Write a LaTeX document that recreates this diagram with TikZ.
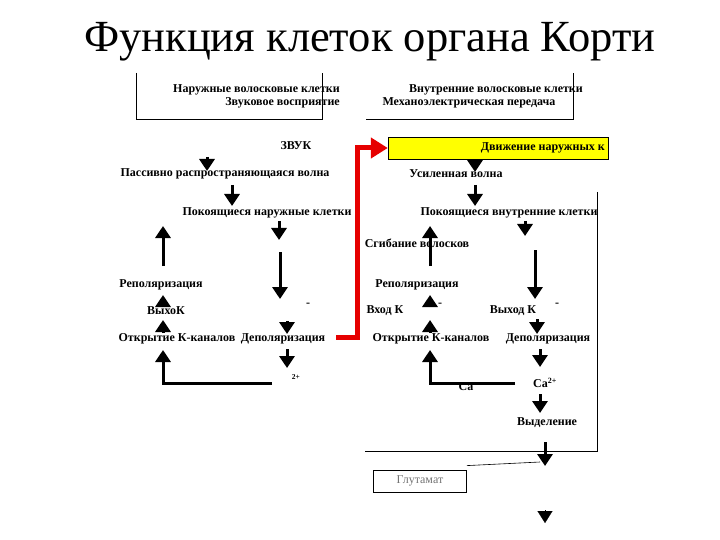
\documentclass[tikz,border=0pt]{standalone}
\usepackage{fontspec}
\setmainfont{Liberation Serif}
\usetikzlibrary{arrows.meta}
\definecolor{boxyellow}{RGB}{255,255,0}
\definecolor{arrred}{RGB}{230,0,0}
\begin{document}
\begin{tikzpicture}[x=1pt,y=-1pt,
  lbl/.style={inner sep=0pt,font=\fontsize{12}{13}\selectfont\bfseries},
  arr/.style={line width=3pt,-{Triangle[width=15pt,length=12pt]}},
  frame/.style={line width=1pt}]
\useasboundingbox (0,0) rectangle (720,540);
% title
\node [inner sep=0pt,font=\fontsize{44.5}{48}\selectfont] (title) at (370,42) {Функция клеток органа Корти};
% headers
\node [lbl,anchor=east] (outer) at (340,90) {Наружные волосковые клетки};
\node [lbl,anchor=east] (perc) at (340,103) {Звуковое восприятие};
\node [lbl] (inner) at (496,90) {Внутренние волосковые клетки};
\node [lbl] (mech) at (469,103) {Механоэлектрическая передача};
\coordinate (lb1) at (136,73); \coordinate (lb2) at (322,120); \coordinate (lb3) at (322,73);
\draw [frame] (lb1) |- (lb2) -- (lb3);
\coordinate (rb1) at (366,120); \coordinate (rb2) at (573,73);
\draw [frame] (rb1) -| (rb2);
% outer hair cells
\node [lbl] (zvuk) at (296,146) {ЗВУК};
\node [lbl] (passive) at (225,174) {Пассивно распространяющаяся волна};
\node [lbl] (restO) at (267,213) {Покоящиеся наружные клетки};
\node [lbl] (repolL) at (161,285) {Реполяризация};
\node [lbl] (vyhoK) at (166,311) {ВыхоК};
\node [lbl] (minusL) at (308,305) {-};
\node [lbl] (openL) at (177,339) {Открытие К-каналов};
\node [lbl] (depolL) at (283,339) {Деполяризация};
\node [lbl,font=\fontsize{7.5}{8}\selectfont\bfseries] (ionL) at (296,377) {2+};
% inner hair cells
\node [draw=black,fill=boxyellow,minimum width=220pt,minimum height=22pt,inner sep=0pt] (move) at (498,148) {};
\node [lbl,anchor=east] (moveT) at (605,148) {Движение наружных к};
\node [lbl] (usil) at (456,174) {Усиленная волна};
\node [lbl] (restI) at (509,213) {Покоящиеся внутренние клетки};
\node [lbl] (sgib) at (417,243) {Сгибание волосков};
\node [lbl] (repolR) at (417,285) {Реполяризация};
\node [lbl] (vhodK) at (385,311) {Вход К};
\node [lbl] (minusR1) at (440,305) {-};
\node [lbl] (vyhodK) at (513,311) {Выход К};
\node [lbl] (minusR2) at (557,305) {-};
\node [lbl] (openR) at (431,339) {Открытие К-каналов};
\node [lbl] (depolR) at (548,339) {Деполяризация};
\node [lbl] (caR) at (545,383) {Ca\textsuperscript{2+}};
\node [lbl] (caL) at (466,387) {Ca};
\node [lbl] (vyd) at (547,423) {Выделение};
\node [draw=black,line width=0.8pt,minimum width=93pt,minimum height=22pt,inner sep=0pt,text=black!55,font=\fontsize{12}{13}\selectfont] (glut) at (420,481) {Глутамат};
% arrows, left
\coordinate (a1) at (207,157); \coordinate (b1) at (207,171);
\draw [arr] (a1) -- (b1);
\coordinate (a2) at (232,185); \coordinate (b2) at (232,206);
\draw [arr] (a2) -- (b2);
\coordinate (a3) at (163,266); \coordinate (b3) at (163,226);
\draw [arr] (a3) -- (b3);
\coordinate (a4) at (279,221); \coordinate (b4) at (279,240);
\draw [arr] (a4) -- (b4);
\coordinate (a5) at (280,252); \coordinate (b5) at (280,299);
\draw [arr] (a5) -- (b5);
\coordinate (a6) at (163,307); \coordinate (b6) at (163,295);
\draw [arr] (a6) -- (b6);
\coordinate (a7) at (163,333); \coordinate (b7) at (163,320);
\draw [arr] (a7) -- (b7);
\coordinate (a8) at (287,321); \coordinate (b8) at (287,334);
\draw [arr] (a8) -- (b8);
\coordinate (a9) at (287,349); \coordinate (b9) at (287,368);
\draw [arr] (a9) -- (b9);
\coordinate (a10) at (272,383); \coordinate (b10) at (163,350);
\draw [arr] (a10) -| (b10);
% arrows, right
\coordinate (a11) at (475,160); \coordinate (b11) at (475,172);
\draw [arr] (a11) -- (b11);
\coordinate (a12) at (475,185); \coordinate (b12) at (475,206);
\draw [arr] (a12) -- (b12);
\coordinate (a13) at (525,221); \coordinate (b13) at (525,236);
\draw [arr] (a13) -- (b13);
\coordinate (a14) at (430,266); \coordinate (b14) at (430,226);
\draw [arr] (a14) -- (b14);
\coordinate (a15) at (535,250); \coordinate (b15) at (535,299);
\draw [arr] (a15) -- (b15);
\coordinate (a16) at (430,307); \coordinate (b16) at (430,295);
\draw [arr] (a16) -- (b16);
\coordinate (a17) at (430,333); \coordinate (b17) at (430,320);
\draw [arr] (a17) -- (b17);
\coordinate (a18) at (537,319); \coordinate (b18) at (537,334);
\draw [arr] (a18) -- (b18);
\coordinate (a19) at (540,349); \coordinate (b19) at (540,367);
\draw [arr] (a19) -- (b19);
\coordinate (a20) at (515,383); \coordinate (b20) at (430,350);
\draw [arr] (a20) -| (b20);
\coordinate (a21) at (540,394); \coordinate (b21) at (540,413);
\draw [arr] (a21) -- (b21);
\coordinate (a22) at (545,442); \coordinate (b22) at (545,466);
\draw [arr] (a22) -- (b22);
\coordinate (a23) at (545,510); \coordinate (b23) at (545,523);
\draw [line width=0.1pt,-{Triangle[width=15pt,length=12pt]}] (a23) -- (b23);
% frame round inner cells
\coordinate (fr1) at (597,192); \coordinate (fr2) at (365,451);
\draw [frame] (fr1) |- (fr2);
\coordinate (gl) at (540,462);
\draw [line width=0.6pt] (glut.north east) ++(0,-4) -- (gl);
% red feedback
\coordinate (r1) at (336,337); \coordinate (r2) at (357,148);
\draw [arrred,line width=5pt,-{Triangle[width=20pt,length=17pt]}] (r1) -| (r2) -- (move.west);
\end{tikzpicture}
\end{document}
